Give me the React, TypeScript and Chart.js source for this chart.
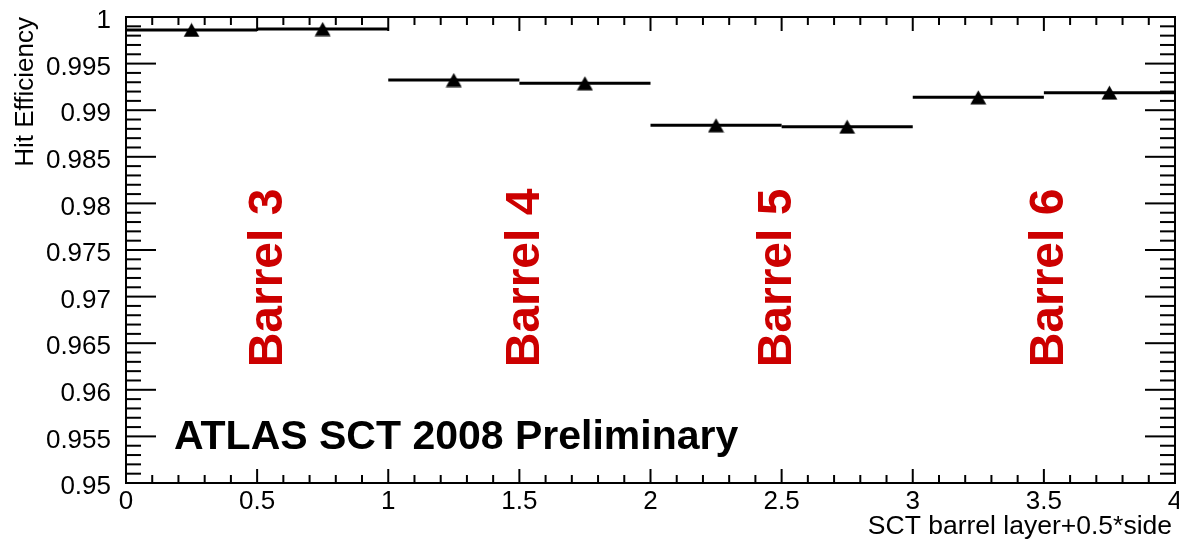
import { useEffect, useRef } from "react";
import { Chart, registerables } from "chart.js";

Chart.register(...registerables);

// Bin edges along "SCT barrel layer + 0.5*side" and the measured hit efficiency per bin
const binEdges = [0, 0.5, 1, 1.5, 2, 2.5, 3, 3.5, 4];
const hitEfficiency = [0.99861, 0.99871, 0.99324, 0.99289, 0.98838, 0.98823, 0.99138, 0.99188];

// Barrel annotations, placed at an x position on the data axis
const barrelLabels = ["Barrel 3", "Barrel 4", "Barrel 5", "Barrel 6"];
const barrelLabelX = [0.53, 1.51, 2.47, 3.51];
const barrelLabelY = 0.972;

// Axis ranges and tick steps
const xRange = [0, 4];
const yRange = [0.95, 1];
const xMajorStep = 0.5;
const xMinorStep = 0.1;
const yMajorStep = 0.005;
const yMinorStep = 0.001;

const xTitle = "SCT barrel layer+0.5*side";
const yTitle = "Hit Efficiency";
const plotLabel = "ATLAS SCT 2008 Preliminary";

const FONT = "'Liberation Sans', Arial, Helvetica, sans-serif";

const fmt = (v: number | string) => String(Number(Number(v).toFixed(3)));

// Horizontal bin-width segments: two points per bin, connectors hidden
const stepPoints = hitEfficiency.flatMap((v, i) => [
  { x: binEdges[i], y: v },
  { x: binEdges[i + 1], y: v },
]);
const markerPoints = hitEfficiency.map((v, i) => ({
  x: (binEdges[i] + binEdges[i + 1]) / 2,
  y: v,
}));

function makeTriangle(): HTMLCanvasElement {
  const c = document.createElement("canvas");
  c.width = 17;
  c.height = 15;
  const g = c.getContext("2d")!;
  g.fillStyle = "#000";
  g.beginPath();
  g.moveTo(8.5, 0.5);
  g.lineTo(16.5, 14.5);
  g.lineTo(0.5, 14.5);
  g.closePath();
  g.fill();
  return c;
}

// Frame with inward-pointing major/minor ticks on all four sides
const frameTicks = {
  id: "frameTicks",
  afterDatasetsDraw(chart: any) {
    const { ctx, chartArea: a, scales } = chart;
    const x = scales.x;
    const y = scales.y;
    ctx.save();
    ctx.strokeStyle = "#000";
    ctx.lineWidth = 2;
    const line = (x1: number, y1: number, x2: number, y2: number) => {
      ctx.beginPath();
      ctx.moveTo(x1, y1);
      ctx.lineTo(x2, y2);
      ctx.stroke();
    };
    const nx = Math.round((xRange[1] - xRange[0]) / xMinorStep);
    const perX = Math.round(xMajorStep / xMinorStep);
    for (let i = 0; i <= nx; i++) {
      const px = x.getPixelForValue(xRange[0] + i * xMinorStep);
      const len = i % perX === 0 ? 14 : 8;
      line(px, a.bottom, px, a.bottom - len);
      line(px, a.top, px, a.top + len);
    }
    const ny = Math.round((yRange[1] - yRange[0]) / yMinorStep);
    const perY = Math.round(yMajorStep / yMinorStep);
    for (let i = 0; i <= ny; i++) {
      const py = y.getPixelForValue(yRange[0] + i * yMinorStep);
      const len = i % perY === 0 ? 30 : 15;
      line(a.left, py, a.left + len, py);
      line(a.right, py, a.right - len, py);
    }
    ctx.strokeRect(a.left, a.top, a.right - a.left, a.bottom - a.top);
    ctx.restore();
  },
};

// Axis titles and in-plot labels
const annotations = {
  id: "annotations",
  afterDraw(chart: any) {
    const { ctx, chartArea: a, scales } = chart;
    const x = scales.x;
    const y = scales.y;
    ctx.save();
    ctx.fillStyle = "#000";

    // y title, rotated, ending at the top of the frame
    ctx.save();
    ctx.translate(33, a.top);
    ctx.rotate(-Math.PI / 2);
    ctx.font = `26px ${FONT}`;
    ctx.textAlign = "right";
    ctx.textBaseline = "alphabetic";
    ctx.fillText(yTitle, 0, 0);
    ctx.restore();

    // x title, right aligned under the axis
    ctx.font = `26.5px ${FONT}`;
    ctx.textAlign = "right";
    ctx.textBaseline = "alphabetic";
    ctx.fillText(xTitle, a.right - 3, 534);

    // ATLAS label
    ctx.font = `bold 41px ${FONT}`;
    ctx.textAlign = "left";
    ctx.fillText(plotLabel, x.getPixelForValue(0.183), y.getPixelForValue(0.9536));

    // Barrel labels, rotated
    ctx.fillStyle = "#cc0000";
    ctx.font = `bold 48px ${FONT}`;
    barrelLabels.forEach((label, i) => {
      ctx.save();
      ctx.translate(x.getPixelForValue(barrelLabelX[i]) + 17, y.getPixelForValue(barrelLabelY));
      ctx.rotate(-Math.PI / 2);
      ctx.textAlign = "center";
      ctx.textBaseline = "alphabetic";
      ctx.fillText(label, 0, 0);
      ctx.restore();
    });
    ctx.restore();
  },
};

export default function App() {
  const canvasRef = useRef<HTMLCanvasElement | null>(null);

  useEffect(() => {
    const canvas = canvasRef.current;
    if (!canvas) return;
    const triangle = makeTriangle();
    const chart = new Chart(canvas, {
      type: "line",
      data: {
        datasets: [
          {
            label: "bins",
            data: stepPoints,
            borderColor: "#000",
            borderWidth: 3,
            pointRadius: 0,
            fill: false,
            tension: 0,
            segment: {
              borderColor: (c: any) =>
                c.p0.parsed.x === c.p1.parsed.x ? "rgba(0,0,0,0)" : "#000",
            },
          },
          {
            label: "efficiency",
            data: markerPoints,
            showLine: false,
            pointStyle: triangle,
            pointRadius: 8,
            pointBackgroundColor: "#000",
            pointBorderColor: "#000",
          },
        ],
      },
      options: {
        animation: false,
        responsive: false,
        layout: { autoPadding: false, padding: { top: 17, right: 4, left: 0, bottom: 0 } },
        plugins: {
          legend: { display: false },
          tooltip: { enabled: false },
        },
        scales: {
          x: {
            type: "linear",
            min: xRange[0],
            max: xRange[1],
            grid: { display: false },
            border: { display: false },
            ticks: {
              stepSize: xMajorStep,
              callback: (v: any) => fmt(v),
              font: { family: FONT, size: 26 },
              color: "#000",
              padding: -5,
              maxRotation: 0,
              autoSkip: false,
            },
            afterFit: (s: any) => {
              s.height = 61;
              s.paddingLeft = 0;
              s.paddingRight = 0;
            },
          },
          y: {
            type: "linear",
            min: yRange[0],
            max: yRange[1],
            grid: { display: false },
            border: { display: false },
            ticks: {
              stepSize: yMajorStep,
              callback: (v: any) => fmt(v),
              font: { family: FONT, size: 26 },
              color: "#000",
              padding: 7,
              labelOffset: 4,
              autoSkip: false,
            },
            afterFit: (s: any) => {
              s.width = 126;
              s.paddingTop = 0;
              s.paddingBottom = 0;
            },
          },
        },
      },
      plugins: [frameTicks, annotations],
    });
    return () => chart.destroy();
  }, []);

  return (
    <div style={{ position: "absolute", left: 0, top: 0, width: 1179, height: 544, background: "#fff" }}>
      <canvas ref={canvasRef} width={1179} height={544} />
    </div>
  );
}
